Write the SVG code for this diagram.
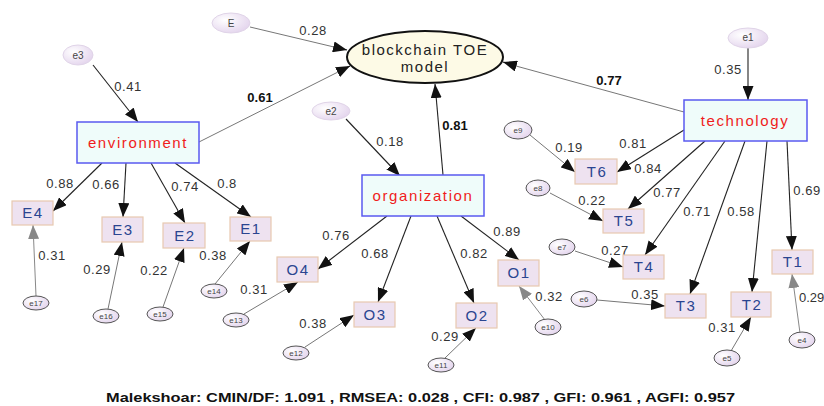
<svg xmlns="http://www.w3.org/2000/svg" width="824" height="406" viewBox="0 0 824 406">
<defs>
<radialGradient id="eg" cx="0.35" cy="0.35" r="0.75">
<stop offset="0" stop-color="#ffffff"/>
<stop offset="1" stop-color="#e2d2ec"/>
</radialGradient>
<marker id="ab" markerUnits="userSpaceOnUse" markerWidth="15" markerHeight="11" refX="14" refY="5.5" orient="auto"><path d="M0,0 L14,5.5 L0,11 Z" fill="#111"/></marker>
<marker id="ag" markerUnits="userSpaceOnUse" markerWidth="15" markerHeight="11" refX="14" refY="5.5" orient="auto"><path d="M0,0 L14,5.5 L0,11 Z" fill="#888"/></marker>
<style>
.lat{fill:#effcfa;stroke:#5a5af0;stroke-width:1.5}
.latt{font-family:"Liberation Sans",Arial,sans-serif;font-size:15px;letter-spacing:1.6px;fill:#f01c1c;text-anchor:middle}
.ind{fill:#eee2f0;stroke:#e8c9b0;stroke-width:1.2}
.indt{font-family:"Liberation Sans",Arial,sans-serif;font-size:15px;letter-spacing:1.5px;fill:#2a4590;text-anchor:middle}
.err{fill:url(#eg);stroke:#e0d4e8;stroke-width:1}
.errs{fill:url(#eg);stroke:#555;stroke-width:1}
.errt{font-family:"Liberation Sans",Arial,sans-serif;font-size:10px;fill:#444;text-anchor:middle}
.errst{font-family:"Liberation Sans",Arial,sans-serif;font-size:8px;fill:#444;text-anchor:middle}
.lb{font-family:"Liberation Sans",Arial,sans-serif;font-size:13px;letter-spacing:0.5px;fill:#333;text-anchor:middle}
.lbb{font-family:"Liberation Sans",Arial,sans-serif;font-size:13px;font-weight:bold;fill:#111;text-anchor:middle}
.k{stroke:#222;stroke-width:1.1;fill:none;marker-end:url(#ab)}
.g{stroke:#777;stroke-width:1;fill:none;marker-end:url(#ab)}
.gg{stroke:#888;stroke-width:1;fill:none;marker-end:url(#ag)}
.p{stroke:#777;stroke-width:1;fill:none}
</style>
</defs>
<rect width="824" height="406" fill="#fff"/>

<g id="connectors">
<line class="p" x1="250" y1="27" x2="334" y2="47"/>
<path d="M334,47 L347,50" class="k"/>
<line class="p" x1="199" y1="142" x2="338" y2="72"/>
<path d="M338,72 L350,66" class="k"/>
<line class="k" x1="93" y1="65" x2="138" y2="122"/>
<line class="k" x1="443" y1="175" x2="435" y2="84"/>
<line class="k" x1="346" y1="119" x2="400" y2="176"/>
<line class="p" x1="684" y1="112" x2="516" y2="66"/>
<path d="M516,66 L503,62" class="k"/>
<line class="k" x1="748" y1="48" x2="748" y2="100"/>

<line class="k" x1="102" y1="163" x2="53" y2="211"/>
<line class="k" x1="126" y1="163" x2="123" y2="217"/>
<line class="k" x1="151" y1="163" x2="185" y2="223"/>
<line class="k" x1="175" y1="163" x2="251" y2="217"/>

<line class="gg" x1="36" y1="296" x2="33" y2="225"/>
<line class="g" x1="108" y1="309" x2="122" y2="242"/>
<line class="g" x1="163" y1="307" x2="184" y2="248"/>
<line class="g" x1="215" y1="284" x2="250" y2="241"/>
<line class="g" x1="244" y1="314" x2="298" y2="282"/>

<line class="k" x1="387" y1="216" x2="318" y2="269"/>
<line class="k" x1="411" y1="216" x2="378" y2="302"/>
<line class="k" x1="437" y1="216" x2="474" y2="303"/>
<line class="k" x1="461" y1="216" x2="519" y2="260"/>

<line class="g" x1="305" y1="347" x2="354" y2="315"/>
<line class="g" x1="445" y1="358" x2="476" y2="328"/>
<line class="gg" x1="545" y1="320" x2="519" y2="286"/>

<line class="k" x1="684" y1="130" x2="617" y2="172"/>
<line class="k" x1="705" y1="141" x2="628" y2="209"/>
<line class="k" x1="725" y1="141" x2="645" y2="255"/>
<line class="k" x1="745" y1="141" x2="690" y2="294"/>
<line class="k" x1="767" y1="141" x2="752" y2="292"/>
<line class="k" x1="787" y1="141" x2="792" y2="250"/>

<line class="g" x1="530" y1="135" x2="575" y2="172"/>
<line class="g" x1="550" y1="193" x2="603" y2="221"/>
<line class="g" x1="575" y1="251" x2="623" y2="267"/>
<line class="g" x1="597" y1="300" x2="665" y2="306"/>
<line class="g" x1="731" y1="351" x2="751" y2="317"/>
<line class="gg" x1="800" y1="333" x2="792" y2="274"/>
</g>

<g id="labels">
<text class="lb" x="313" y="35">0.28</text>
<text class="lb" x="128" y="91">0.41</text>
<text class="lbb" x="260" y="102">0.61</text>
<text class="lb" x="390" y="146">0.18</text>
<text class="lbb" x="455" y="130">0.81</text>
<text class="lbb" x="609" y="85">0.77</text>
<text class="lb" x="728" y="74">0.35</text>
<text class="lb" x="60" y="188">0.88</text>
<text class="lb" x="106" y="189">0.66</text>
<text class="lb" x="185" y="191">0.74</text>
<text class="lb" x="227" y="188">0.8</text>
<text class="lb" x="52" y="260">0.31</text>
<text class="lb" x="97" y="274">0.29</text>
<text class="lb" x="154" y="275">0.22</text>
<text class="lb" x="213" y="260">0.38</text>
<text class="lb" x="254" y="294">0.31</text>
<text class="lb" x="336" y="240">0.76</text>
<text class="lb" x="375" y="258">0.68</text>
<text class="lb" x="474" y="258">0.82</text>
<text class="lb" x="507" y="236">0.89</text>
<text class="lb" x="549" y="301">0.32</text>
<text class="lb" x="313" y="328">0.38</text>
<text class="lb" x="445" y="341">0.29</text>
<text class="lb" x="569" y="152">0.19</text>
<text class="lb" x="633" y="148">0.81</text>
<text class="lb" x="648" y="173">0.84</text>
<text class="lb" x="667" y="197">0.77</text>
<text class="lb" x="697" y="216">0.71</text>
<text class="lb" x="741" y="216">0.58</text>
<text class="lb" x="807" y="195">0.69</text>
<text class="lb" x="592" y="205">0.22</text>
<text class="lb" x="615" y="255">0.27</text>
<text class="lb" x="645" y="299">0.35</text>
<text class="lb" x="722" y="332">0.31</text>
<text class="lb" x="799" y="302" style="text-anchor:start;letter-spacing:0">0.29</text>
</g>

<g id="model">
<ellipse cx="425" cy="57" rx="78" ry="26" fill="#fdfae6" stroke="#111" stroke-width="2"/>
<text x="425" y="55" font-family="'Liberation Sans',Arial,sans-serif" font-size="15" letter-spacing="1.5" fill="#222" text-anchor="middle">blockchain TOE</text>
<text x="425" y="72" font-family="'Liberation Sans',Arial,sans-serif" font-size="15" letter-spacing="1.5" fill="#222" text-anchor="middle">model</text>
</g>

<g id="environment"><rect class="lat" x="77" y="122" width="122" height="41"/><text class="latt" x="138" y="148">environment</text></g>
<g id="organization"><rect class="lat" x="362" y="175" width="122" height="41"/><text class="latt" x="423" y="201">organization</text></g>
<g id="technology"><rect class="lat" x="684" y="100" width="123" height="41"/><text class="latt" x="745" y="126">technology</text></g>

<g id="E4"><rect class="ind" x="12" y="201" width="41" height="24"/><text class="indt" x="33" y="218">E4</text></g>
<g id="E3"><rect class="ind" x="102" y="217" width="41" height="25"/><text class="indt" x="123" y="235">E3</text></g>
<g id="E2"><rect class="ind" x="163" y="223" width="42" height="25"/><text class="indt" x="185" y="241">E2</text></g>
<g id="E1"><rect class="ind" x="230" y="217" width="41" height="24"/><text class="indt" x="251" y="234">E1</text></g>
<g id="O4"><rect class="ind" x="277" y="257" width="41" height="25"/><text class="indt" x="298" y="275">O4</text></g>
<g id="O3"><rect class="ind" x="354" y="302" width="41" height="25"/><text class="indt" x="375" y="320">O3</text></g>
<g id="O2"><rect class="ind" x="456" y="303" width="41" height="25"/><text class="indt" x="477" y="321">O2</text></g>
<g id="O1"><rect class="ind" x="498" y="260" width="41" height="26"/><text class="indt" x="519" y="278">O1</text></g>
<g id="T6"><rect class="ind" x="575" y="159" width="42" height="25"/><text class="indt" x="597" y="177">T6</text></g>
<g id="T5"><rect class="ind" x="603" y="209" width="41" height="24"/><text class="indt" x="624" y="226">T5</text></g>
<g id="T4"><rect class="ind" x="623" y="255" width="41" height="24"/><text class="indt" x="644" y="272">T4</text></g>
<g id="T3"><rect class="ind" x="665" y="294" width="41" height="24"/><text class="indt" x="686" y="311">T3</text></g>
<g id="T2"><rect class="ind" x="731" y="292" width="40" height="25"/><text class="indt" x="752" y="310">T2</text></g>
<g id="T1"><rect class="ind" x="772" y="250" width="41" height="24"/><text class="indt" x="793" y="267">T1</text></g>

<g id="E"><ellipse class="err" cx="231" cy="23" rx="19" ry="10"/><text class="errt" x="231" y="27">E</text></g>
<g id="e3"><ellipse class="err" cx="78" cy="55" rx="15" ry="10"/><text class="errt" x="78" y="59">e3</text></g>
<g id="e2"><ellipse class="err" cx="331" cy="111" rx="19" ry="9"/><text class="errt" x="331" y="115">e2</text></g>
<g id="e1"><ellipse class="err" cx="748" cy="38" rx="20" ry="10"/><text class="errt" x="748" y="41">e1</text></g>
<g id="e9"><ellipse class="errs" cx="518" cy="130" rx="14" ry="9"/><text class="errst" x="518" y="133">e9</text></g>
<g id="e8"><ellipse class="errs" cx="538" cy="188" rx="12" ry="8"/><text class="errst" x="538" y="191">e8</text></g>
<g id="e7"><ellipse class="errs" cx="562" cy="247" rx="13" ry="8"/><text class="errst" x="562" y="250">e7</text></g>
<g id="e6"><ellipse class="errs" cx="584" cy="299" rx="13" ry="8"/><text class="errst" x="584" y="302">e6</text></g>
<g id="e5"><ellipse class="errs" cx="727" cy="358" rx="13" ry="8"/><text class="errst" x="727" y="361">e5</text></g>
<g id="e4"><ellipse class="errs" cx="802" cy="340" rx="13" ry="8"/><text class="errst" x="802" y="343">e4</text></g>
<g id="e10"><ellipse class="errs" cx="548" cy="327" rx="13" ry="8"/><text class="errst" x="548" y="330">e10</text></g>
<g id="e11"><ellipse class="errs" cx="441" cy="365" rx="13" ry="7"/><text class="errst" x="441" y="368">e11</text></g>
<g id="e12"><ellipse class="errs" cx="296" cy="353" rx="13" ry="7"/><text class="errst" x="296" y="356">e12</text></g>
<g id="e13"><ellipse class="errs" cx="236" cy="320" rx="13" ry="7"/><text class="errst" x="236" y="323">e13</text></g>
<g id="e14"><ellipse class="errs" cx="214" cy="291" rx="13" ry="7"/><text class="errst" x="214" y="294">e14</text></g>
<g id="e15"><ellipse class="errs" cx="160" cy="314" rx="13" ry="7"/><text class="errst" x="160" y="317">e15</text></g>
<g id="e16"><ellipse class="errs" cx="106" cy="316" rx="13" ry="7"/><text class="errst" x="106" y="319">e16</text></g>
<g id="e17"><ellipse class="errs" cx="36" cy="303" rx="13" ry="7"/><text class="errst" x="36" y="306">e17</text></g>

<text x="106" y="402" textLength="629" lengthAdjust="spacingAndGlyphs" font-family="'Liberation Sans',Arial,sans-serif" font-size="13" font-weight="bold" fill="#111">Malekshoar: CMIN/DF: 1.091 , RMSEA: 0.028 , CFI: 0.987 , GFI: 0.961 , AGFI: 0.957</text>
</svg>
